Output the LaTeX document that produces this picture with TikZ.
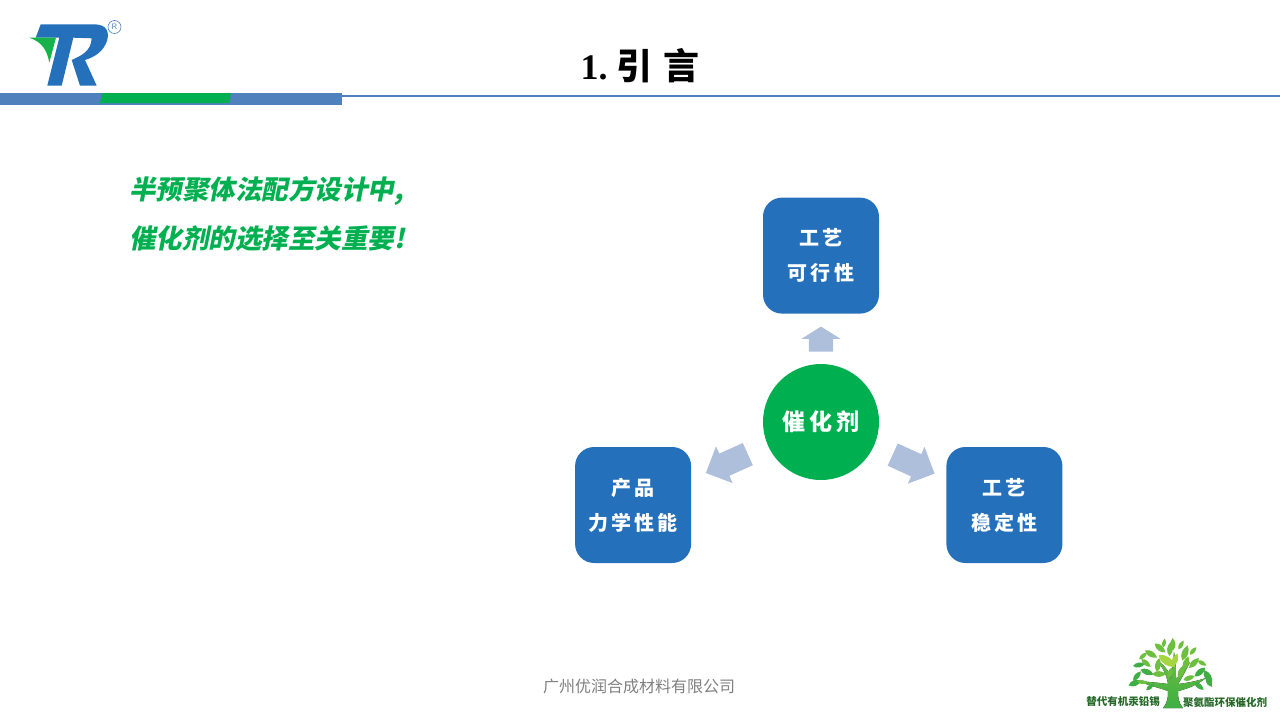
\documentclass[tikz,border=0pt]{standalone}
\usepackage{fontspec}
\setmainfont{Liberation Serif}
\newfontfamily\cjkfont{Noto Sans CJK SC}
\newfontfamily\boxfont{Noto Sans CJK SC}[LetterSpace=16]
\newfontfamily\slantfont{Noto Sans CJK SC}[FakeSlant=0.2]
\usetikzlibrary{positioning, calc, shapes.arrows}
\definecolor{trblue}{HTML}{2470BB}
\definecolor{trbar}{HTML}{4F81BD}
\definecolor{trgreen}{HTML}{00B050}
\definecolor{trarrow}{HTML}{AEBFDC}
\definecolor{treedark}{HTML}{3FAE45}
\definecolor{treemid}{HTML}{6CBF3F}
\definecolor{treelight}{HTML}{A5D63F}
\tikzset{
	topicbox/.style={rectangle, rounded corners=19pt, fill=trblue, text=white, minimum width=116pt, minimum height=116pt, inner sep=0pt, align=center, font=\boxfont\bfseries\fontsize{20}{35}\selectfont},
	blockarrow/.style={single arrow, anchor=tail, fill=trarrow, inner xsep=0pt, inner ysep=12pt, minimum width=40pt, minimum height=46pt, single arrow head extend=8pt, single arrow tip angle=90},
	sidetext/.style={anchor=west, inner sep=0pt, text=trgreen, font=\slantfont\bfseries\fontsize{26.5}{26.5}\selectfont},
	brandtext/.style={inner sep=0pt, text=treedark!60!black, font=\cjkfont\bfseries\fontsize{10.5}{10.5}\selectfont},
}
\begin{document}
\begin{tikzpicture}[x=1pt, y=-1pt]
	\useasboundingbox (0,0) rectangle (1280,720);
	% header
	\fill[trbar] (342,95) rectangle (1280,97);
	\fill[trbar] (0,93) rectangle (342,105);
	\fill[trgreen] (102,93) -- (231,93) -- (229,103) -- (100,103) -- cycle;
	\node [inner sep=0pt, font=\bfseries\fontsize{36}{36}\selectfont] (title) at (640,65.5) {1.\hspace{9pt}{\cjkfont 引\hspace{11pt}言}};
	% logo
	\fill[trblue] (35.7,37.7) -- (40.7,24.3) -- (95,24.3) .. controls (107.3,25) and (109,32) .. (107.3,40) .. controls (104,51) and (95,57) .. (85,60) -- (96.7,85.7) -- (80,85.7) -- (71.7,60) .. controls (80,56) and (91,52) .. (91.7,38.3) -- (73.3,37.7) -- (61.7,85.7) -- (47.3,85.7) -- (59.3,37.7) -- cycle;
	\fill[trgreen!80!treemid] (29.3,37.7) -- (56,37.7) -- (49.3,62.7) .. controls (47,50) and (42,42) .. cycle;
	\node [circle, draw=trbar, line width=0.6pt, minimum size=13pt, inner sep=0pt, text=trbar, font=\sffamily\fontsize{8}{8}\selectfont] (mark) at (114.5,27) {R};
	% text
	\node [sidetext] (lineone) at (129,191) {半预聚体法配方设计中,};
	\node [sidetext] (linetwo) at (129,238.5) {催化剂的选择至关重要!};
	% diagram
	\node [circle, fill=trgreen, text=white, minimum size=116pt, inner sep=0pt, font=\boxfont\bfseries\fontsize{23}{23}\selectfont] (cat) at (821,422) {催化剂};
	\node [topicbox, above=50pt of cat] (craft) {工艺\\可行性};
	\node [topicbox, left=71.5pt of cat, yshift=-83pt] (mech) {产品\\力学性能};
	\node [topicbox, right=67pt of cat, yshift=-83pt] (stable) {工艺\\稳定性};
	\node [blockarrow, minimum width=39pt, minimum height=25pt, single arrow head extend=7.5pt, single arrow tip angle=116, rotate=90] (uparrow) at ($(cat.north)+(0,-12)$) {};
	\node [blockarrow, rotate=204.3] (leftarrow) at (748,454) {};
	\node [blockarrow, rotate=-24.5] (rightarrow) at (892.5,454.5) {};
	% footer
	\node [inner sep=0pt, text=black!50, font=\cjkfont\fontsize{16}{16}\selectfont] (company) at (639,686) {广州优润合成材料有限公司};
	% tree
	\fill[bottom color=treedark, top color=treemid] (1163,708) .. controls (1168,702) and (1168,697) .. (1168,691) .. controls (1160,688) and (1150,686) .. (1138,681) .. controls (1150,682) and (1161,683) .. (1168,684) .. controls (1167,676) and (1163,668) .. (1157,660) .. controls (1165,666) and (1170,672) .. (1171,680) .. controls (1172,672) and (1173,662) .. (1174,652) .. controls (1176,662) and (1176,672) .. (1176,680) .. controls (1179,674) and (1184,668) .. (1190,662) .. controls (1186,670) and (1182,678) .. (1178,684) .. controls (1187,683) and (1197,681) .. (1206,678) .. controls (1197,685) and (1187,689) .. (1178,691) .. controls (1178,697) and (1178,702) .. (1183,708) -- cycle;
	\foreach \lx/\ly/\la/\ls/\lc in {
		1164/643/80/4.5/treemid, 1173/644/95/6/treemid, 1181/645/60/5/treemid, 1170/649/85/7/treemid,
		1185/653/70/8/treemid, 1160/648/-40/7/treemid, 1151/654/-30/7/treemid, 1193/651/50/5/treemid,
		1143/656/40/5/treemid, 1167/661/-35/10/treelight, 1175/660/70/7/treelight, 1194/663/45/7/treemid,
		1186/663/70/7/treemid, 1158/665/80/7/treemid, 1139/665/10/6/treedark, 1146/663/-40/6/treemid,
		1202/663/-30/5/treemid, 1147/672/-20/7/treedark, 1159/674/0/7/treemid, 1170/673/70/6/treemid,
		1181/672/70/7/treemid, 1200/672/40/7/treedark, 1137/676/50/6/treedark, 1189/678/20/6/treemid,
		1208/677/-60/8/treedark, 1135/683/20/7/treedark, 1150/687/40/5/treedark, 1199/686/-40/6/treedark,
		1209/683/-50/5/treedark, 1142/682/-10/5/treemid}
		\fill[shift={(\lx,\ly)}, rotate=\la, scale=\ls, \lc] (-1,0) .. controls (-0.4,0.6) and (0.4,0.5) .. (1,0) .. controls (0.4,-0.5) and (-0.4,-0.6) .. (-1,0);
	\node [brandtext] (brandleft) at (1123,702) {替代有机汞铅锡};
	\node [brandtext] (brandright) at (1225,702) {聚氨酯环保催化剂};
\end{tikzpicture}
\end{document}
